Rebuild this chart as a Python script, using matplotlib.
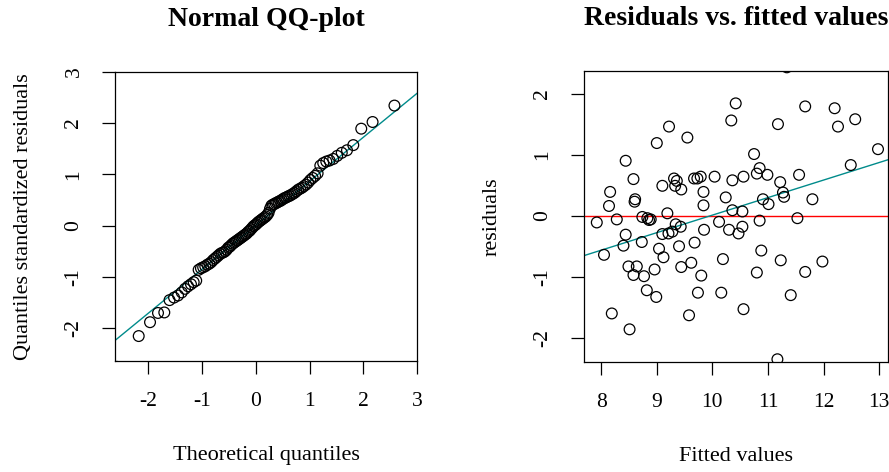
import numpy as np
import matplotlib
matplotlib.use("Agg")
import matplotlib.pyplot as plt

plt.rcParams['font.family'] = ['Liberation Serif', 'DejaVu Serif']
plt.rcParams['axes.unicode_minus'] = False

# Normal QQ-plot: theoretical quantiles and sorted standardized residuals
qq_theoretical = [-2.576, -2.170, -1.960, -1.812, -1.695, -1.598, -1.514, -1.440, -1.372, -1.311,
                  -1.254, -1.200, -1.150, -1.103, -1.058, -1.015, -0.974, -0.935, -0.896, -0.860,
                  -0.824, -0.789, -0.755, -0.722, -0.690, -0.659, -0.628, -0.598, -0.568, -0.539,
                  -0.510, -0.482, -0.454, -0.426, -0.399, -0.372, -0.345, -0.319, -0.292, -0.266,
                  -0.240, -0.215, -0.189, -0.164, -0.138, -0.113, -0.088, -0.063, -0.038, -0.013,
                  0.013, 0.038, 0.063, 0.088, 0.113, 0.138, 0.164, 0.189, 0.215, 0.240,
                  0.266, 0.292, 0.319, 0.345, 0.372, 0.399, 0.426, 0.454, 0.482, 0.510,
                  0.539, 0.568, 0.598, 0.628, 0.659, 0.690, 0.722, 0.755, 0.789, 0.824,
                  0.860, 0.896, 0.935, 0.974, 1.015, 1.058, 1.103, 1.150, 1.200, 1.254,
                  1.311, 1.372, 1.440, 1.514, 1.598, 1.695, 1.812, 1.960, 2.170, 2.576]
qq_sample = [-2.75, -2.15, -1.88, -1.70, -1.69, -1.45, -1.40, -1.36, -1.30, -1.23,
             -1.18, -1.14, -1.10, -1.07, -0.86, -0.83, -0.81, -0.79, -0.76, -0.74,
             -0.71, -0.67, -0.64, -0.61, -0.58, -0.55, -0.53, -0.52, -0.50, -0.47,
             -0.43, -0.41, -0.38, -0.35, -0.33, -0.31, -0.29, -0.27, -0.25, -0.23,
             -0.21, -0.19, -0.17, -0.15, -0.12, -0.10, -0.07, -0.04, -0.01, 0.01,
             0.03, 0.06, 0.08, 0.10, 0.12, 0.14, 0.16, 0.18, 0.21, 0.25,
             0.33, 0.39, 0.41, 0.42, 0.44, 0.45, 0.47, 0.48, 0.50, 0.52,
             0.54, 0.55, 0.57, 0.58, 0.60, 0.62, 0.64, 0.67, 0.70, 0.72,
             0.74, 0.77, 0.80, 0.84, 0.89, 0.93, 0.97, 1.02, 1.17, 1.22,
             1.25, 1.27, 1.30, 1.36, 1.42, 1.47, 1.57, 1.89, 2.02, 2.34]
qq_line = (0.006, 0.859)  # intercept, slope

# Residuals vs. fitted values
fitted = [7.92, 8.05, 8.16, 8.14, 8.19, 8.28, 8.44, 8.44, 8.40, 8.49,
          8.51, 8.58, 8.61, 8.60, 8.64, 8.58, 8.74, 8.73, 8.77, 8.82,
          8.83, 8.86, 8.89, 8.96, 8.99, 9.00, 9.04, 9.10, 9.10, 9.12,
          9.19, 9.22, 9.21, 9.28, 9.31, 9.33, 9.36, 9.34, 9.40, 9.43,
          9.44, 9.44, 9.55, 9.58, 9.62, 9.67, 9.68, 9.73, 9.74, 9.79,
          9.80, 9.84, 9.84, 9.85, 10.04, 10.12, 10.16, 10.19, 10.24, 10.30,
          10.34, 10.36, 10.36, 10.42, 10.47, 10.54, 10.54, 10.56, 10.56, 10.75,
          10.80, 10.85, 10.80, 10.85, 10.88, 10.91, 10.99, 11.01, 11.17, 11.18,
          11.22, 11.23, 11.27, 11.29, 11.41, 11.53, 11.56, 11.67, 11.67, 11.80,
          11.98, 12.20, 12.26, 12.49, 12.57, 12.98, 11.34]
residuals = [-0.11, -0.64, 0.39, 0.16, -1.60, -0.06, 0.90, -0.31, -0.49, -0.83,
             -1.86, 0.60, 0.27, 0.23, -0.83, -0.97, -0.02, -0.43, -0.99, -1.22,
             -0.04, -0.07, -0.06, -0.88, -1.33, 1.19, -0.54, 0.49, -0.30, -0.68,
             0.04, 1.46, -0.29, -0.26, 0.61, 0.49, 0.57, -0.14, -0.50, -0.18,
             0.43, -0.84, 1.28, -1.63, -0.77, 0.61, -0.44, 0.61, -1.26, 0.64,
             -0.98, 0.39, 0.17, -0.23, 0.64, -0.10, -1.26, -0.71, 0.30, -0.23,
             1.56, 0.09, 0.58, 1.84, -0.29, 0.07, -0.18, 0.64, -1.53, 1.01,
             0.69, 0.78, -0.93, -0.08, -0.57, 0.27, 0.67, 0.19, -2.35, 1.50,
             0.55, -0.73, 0.38, 0.31, -1.30, -0.04, 0.67, 1.79, -0.92, 0.27,
             -0.75, 1.76, 1.46, 0.83, 1.58, 1.09, 2.43]
fit_line = (-2.86, 0.287)  # intercept, slope

teal = '#008B8B'

fig = plt.figure(figsize=(8.89, 4.72), dpi=100)
ax1 = fig.add_axes([115 / 889, 1 - 360.7 / 472, 302.3 / 889, 289 / 472])
ax2 = fig.add_axes([584 / 889, 1 - 361.7 / 472, 304 / 889, 290.7 / 472])

ax1.scatter(qq_theoretical, qq_sample, s=60, facecolors='none', edgecolors='black', linewidths=0.9, zorder=3)
xl = np.array([-2.61, 3.0])
ax1.plot(xl, qq_line[0] + qq_line[1] * xl, color=teal, lw=1.0, zorder=2)
ax1.set_xlim(-2.61, 3.0)
ax1.set_ylim(-2.63, 3.0)
ax1.set_xticks([-2, -1, 0, 1, 2, 3])
ax1.set_yticks([-2, -1, 0, 1, 2, 3])
ax1.set_title('Normal QQ-plot', fontsize=20, fontweight='bold', pad=33)
ax1.set_xlabel('Theoretical quantiles', fontsize=16)
ax1.set_ylabel('Quantiles standardized residuals', fontsize=16)

ax2.scatter(fitted, residuals, s=60, facecolors='none', edgecolors='black', linewidths=0.9, zorder=3)
ax2.axhline(0, color='red', lw=1.0, zorder=2)
xr = np.array([7.69, 13.16])
ax2.plot(xr, fit_line[0] + fit_line[1] * xr, color=teal, lw=1.0, zorder=2)
ax2.set_xlim(7.69, 13.16)
ax2.set_ylim(-2.39, 2.37)
ax2.set_xticks([8, 9, 10, 11, 12, 13])
ax2.set_yticks([-2, -1, 0, 1, 2])
ax2.set_title('Residuals vs. fitted values', fontsize=20, fontweight='bold', pad=33)
ax2.set_xlabel('Fitted values', fontsize=16)
ax2.set_ylabel('residuals', fontsize=16)

for ax in (ax1, ax2):
    for sp in ax.spines.values():
        sp.set_linewidth(0.9)
    ax.tick_params(length=9.7, width=0.9, labelsize=15.5, pad=13)
    for lab in ax.get_yticklabels():
        lab.set_rotation(90)
        lab.set_va('center')
    ax.xaxis.set_label_coords(0.5, -0.295)
    ax.yaxis.set_label_coords(-0.27, 0.5)

fig.savefig('out.png', dpi=100)
